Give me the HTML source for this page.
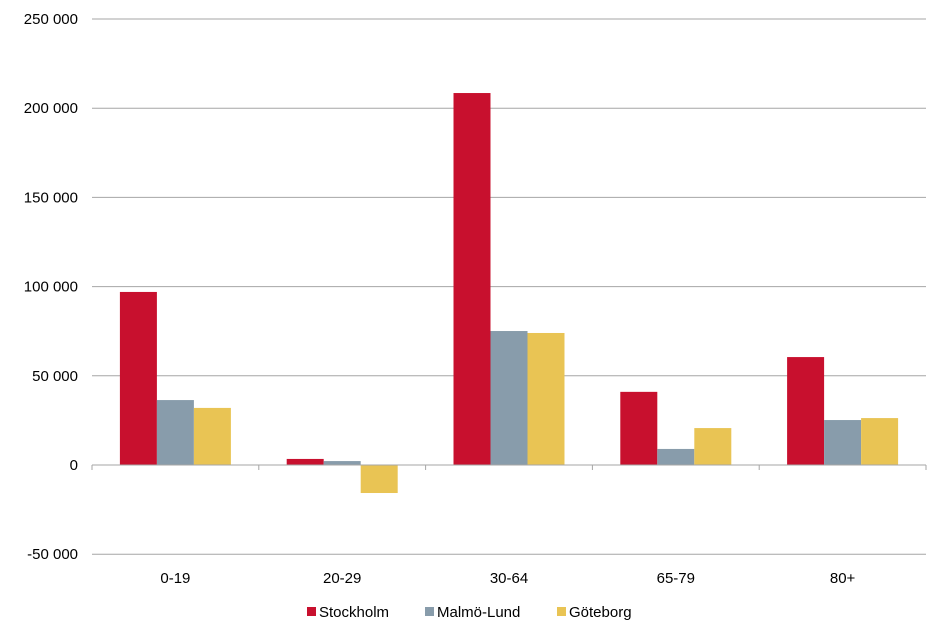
<!DOCTYPE html>
<html><head><meta charset="utf-8"><style>
body{margin:0;background:#fff;font-family:"Liberation Sans",Arial,sans-serif;}
svg text{font-family:"Liberation Sans",Arial,sans-serif;font-size:15px;fill:#000;}
</style></head><body>
<svg id="chart" width="946" height="639"></svg>
<script>
const categories=["0-19","20-29","30-64","65-79","80+"];
const stockholm=[97000,3400,208500,41000,60500];
const malmo=[36400,2200,75100,9000,25200];
const goteborg=[32000,-15700,74000,20700,26300];
const seriesNames=["Stockholm","Malmö-Lund","Göteborg"];
const tickValues=[-50000,0,50000,100000,150000,200000,250000];
const tickLabels=["-50 000","0","50 000","100 000","150 000","200 000","250 000"];
const colors=["#C8102E","#889CAB","#E9C454"];
const svg=document.getElementById('chart');const NS="http://www.w3.org/2000/svg";
const L=92,R=926,y0=465,pxPer=446/250000;
const y=v=>y0-v*pxPer;
const bw=(R-L)/categories.length;
const x=i=>L+i*bw;
function el(t,a,p){const e=document.createElementNS(NS,t);for(const k in a)e.setAttribute(k,a[k]);(p||svg).appendChild(e);return e;}
tickValues.forEach((v,i)=>{
 if(v!==0){const g=el('line',{x1:L,x2:R,y1:y(v),y2:y(v),stroke:'#a6a6a6','stroke-width':1});
 
 }
 const t=el('text',{x:78,y:y(v)+5,'text-anchor':'end'});t.textContent=tickLabels[i];
 
 
});
const all=[stockholm,malmo,goteborg];
const barW=37,off=(bw-3*barW)/2;
categories.forEach((c,i)=>{
 all.forEach((s,j)=>{const v=s[i];const r=el('rect',{x:x(i)+off+j*barW,y:Math.min(y(v),y0),width:barW,height:Math.abs(y(v)-y0),fill:colors[j]});
 
 });
 const t=el('text',{x:x(i)+bw/2,y:583,'text-anchor':'middle'});t.textContent=c;
 
 
});
const ax=el('line',{x1:L,x2:R,y1:y0,y2:y0,stroke:'#a6a6a6','stroke-width':1});


for(let i=0;i<=categories.length;i++){const tk=el('line',{x1:x(i),x2:x(i),y1:y0,y2:y0+5,stroke:'#a6a6a6'});
 
 }
const lx=[307,425,557];
seriesNames.forEach((n,j)=>{
 const g=el('g',{});
 
 
 el('rect',{x:lx[j],y:607,width:9,height:9,fill:colors[j]},g);
 const t=el('text',{x:lx[j]+12,y:617},g);t.textContent=n;
});
</script>
</body></html>
